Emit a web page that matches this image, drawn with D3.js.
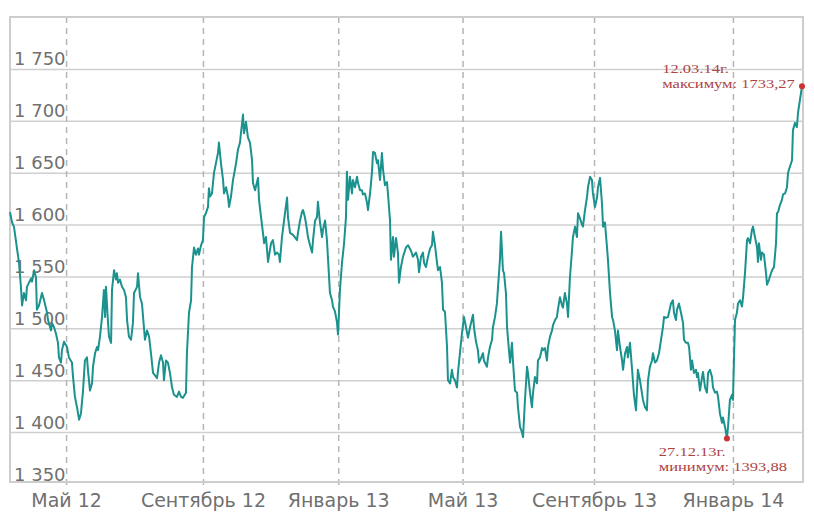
<!DOCTYPE html>
<html>
<head>
<meta charset="utf-8">
<script src="https://cdn.jsdelivr.net/npm/d3@7"></script>
<style>
  body { margin: 0; background: #fff; }
  svg { display: block; }
</style>
</head>
<body>
<div id="chart"></div>
<script>
// MICEX close by trading session (session 0 = start of the chart, about mid-March 2012)
var closes = [
  [0,1612],[1.3,1602],[2.5,1598],[4.4,1577],[5.7,1563],[6.9,1540],[7.6,1522],[8.8,1534],[10.1,1527],[10.7,1540],
  [12.0,1544],[13.3,1548],[13.9,1545],[15.2,1556],[16.4,1549],[17.0,1518],[18.3,1522],[20.2,1534],[21.5,1527],[23.4,1515],
  [24.0,1508],[25.9,1498],[26.5,1505],[27.8,1501],[29.0,1495],[30.3,1486],[30.9,1472],[32.2,1467],[32.8,1479],[34.1,1487],
  [36.0,1482],[37.2,1472],[39.1,1467],[39.8,1453],[41.0,1434],[42.3,1424],[43.6,1412],[44.8,1418],[46.1,1440],[47.3,1469],
  [48.6,1472],[49.2,1460],[50.5,1440],[51.8,1447],[52.4,1463],[53.7,1476],[54.9,1482],[55.6,1479],[56.8,1492],[58.1,1511],
  [59.3,1537],[60.0,1511],[60.6,1540],[61.9,1505],[62.5,1492],[63.8,1486],[64.4,1537],[65.7,1556],[66.9,1547],[67.5,1553],
  [68.2,1544],[69.4,1547],[70.7,1540],[72.0,1537],[73.2,1530],[73.9,1508],[75.1,1492],[76.4,1489],[77.6,1505],[78.3,1534],
  [80.2,1540],[80.8,1553],[82.1,1530],[83.3,1524],[85.2,1489],[86.5,1498],[87.8,1492],[89.0,1476],[90.3,1457],[92.8,1452],
  [94.1,1467],[95.3,1474],[96.6,1467],[97.2,1450],[98.5,1469],[99.7,1467],[101.0,1457],[102.3,1443],[103.5,1436],[105.4,1434],
  [106.7,1439],[108.0,1434],[109.2,1433],[111.1,1438],[111.7,1476],[113.0,1515],[114.3,1527],[114.9,1559],[116.2,1578],[117.4,1571],
  [118.7,1577],[119.3,1571],[120.6,1580],[121.8,1585],[122.5,1607],[123.7,1611],[125.0,1617],[125.6,1635],[126.3,1627],[127.5,1630],
  [128.8,1650],[130.0,1659],[131.3,1669],[131.9,1679],[133.2,1659],[134.5,1643],[135.1,1630],[136.4,1636],[137.6,1627],[138.3,1617],
  [139.5,1627],[140.8,1643],[142.7,1659],[143.9,1672],[145.2,1679],[145.8,1688],[147.1,1706],[147.7,1688],[149.0,1699],[150.2,1684],
  [151.5,1679],[152.8,1662],[153.4,1640],[154.7,1633],[156.6,1645],[157.2,1624],[158.5,1607],[159.7,1592],[160.4,1582],[161.6,1588],
  [162.9,1564],[164.8,1582],[166.0,1585],[167.3,1571],[168.6,1573],[169.8,1571],[170.4,1564],[171.7,1588],[172.3,1595],[173.6,1611],
  [174.9,1626],[175.5,1607],[176.8,1592],[178.7,1590],[181.2,1585],[181.8,1592],[183.1,1604],[184.3,1612],[185.0,1614],[186.2,1607],
  [187.5,1595],[188.1,1588],[189.4,1580],[190.7,1573],[191.3,1585],[192.6,1604],[193.8,1607],[194.4,1622],[195.7,1602],[197.0,1588],
  [197.6,1595],[198.9,1604],[200.1,1585],[200.8,1566],[202.0,1534],[203.3,1527],[203.9,1521],[205.2,1516],[206.4,1506],[207.1,1494],
  [208.3,1537],[209.6,1563],[210.9,1582],[212.1,1607],[212.7,1651],[213.4,1624],[214.6,1646],[215.9,1630],[216.5,1643],[217.8,1636],
  [219.1,1646],[219.7,1640],[221.0,1633],[222.2,1633],[222.8,1629],[224.1,1630],[225.4,1621],[226.0,1614],[227.3,1630],[228.5,1650],
  [229.2,1670],[230.4,1669],[231.7,1659],[232.3,1662],[233.6,1643],[234.8,1669],[235.5,1653],[236.7,1638],[238.0,1641],[238.6,1630],
  [239.9,1604],[240.5,1566],[241.8,1588],[242.4,1569],[243.7,1587],[244.9,1573],[245.6,1544],[246.8,1559],[248.1,1569],[250.0,1578],
  [251.3,1580],[253.1,1575],[254.4,1569],[256.3,1573],[257.6,1566],[258.2,1554],[259.5,1569],[260.7,1573],[261.4,1563],[262.6,1559],
  [263.9,1569],[265.2,1577],[266.4,1580],[267.0,1593],[268.3,1580],[269.6,1563],[270.2,1556],[271.5,1559],[272.7,1544],[273.4,1518],
  [274.6,1516],[275.9,1482],[276.5,1450],[277.8,1447],[279.0,1460],[279.7,1453],[280.9,1450],[282.2,1443],[282.8,1457],[284.1,1477],
  [285.4,1496],[286.6,1511],[287.9,1501],[289.1,1491],[291.0,1505],[292.3,1513],[292.9,1501],[294.2,1487],[295.4,1479],[296.1,1467],
  [297.3,1471],[298.6,1476],[299.2,1469],[301.1,1463],[301.8,1472],[303.0,1482],[304.3,1489],[304.9,1501],[306.2,1511],[307.4,1524],
  [308.1,1540],[309.3,1566],[310.0,1593],[311.2,1556],[311.9,1553],[313.1,1534],[313.8,1501],[315.0,1479],[315.7,1467],[316.9,1486],
  [317.5,1469],[318.8,1440],[320.1,1438],[320.7,1424],[322.0,1405],[323.2,1400],[323.9,1395],[325.1,1431],[326.4,1463],[327.0,1457],
  [328.3,1438],[329.5,1424],[330.2,1438],[331.4,1453],[332.7,1447],[333.3,1469],[334.6,1472],[335.9,1481],[336.5,1479],[337.7,1481],
  [339.0,1469],[339.6,1482],[340.9,1492],[342.2,1498],[342.8,1503],[344.1,1508],[345.3,1511],[345.9,1518],[347.2,1530],[348.5,1522],
  [349.1,1520],[350.3,1534],[351.6,1524],[352.3,1511],[353.5,1549],[354.8,1575],[355.4,1588],[356.7,1598],[357.9,1588],[358.6,1611],
  [359.8,1606],[361.1,1600],[361.7,1598],[363.0,1614],[364.3,1627],[364.9,1636],[366.2,1646],[367.4,1643],[368.0,1630],[369.3,1617],
  [370.6,1626],[371.2,1636],[372.5,1645],[373.7,1621],[374.4,1598],[375.6,1602],[376.9,1578],[377.5,1566],[378.8,1534],[380.1,1511],
  [380.7,1508],[381.9,1498],[383.2,1479],[383.8,1498],[385.1,1482],[386.4,1469],[387.0,1460],[388.3,1476],[389.5,1482],[390.1,1472],
  [391.4,1486],[392.7,1461],[393.9,1436],[395.2,1421],[396.4,1460],[397.7,1450],[399.6,1431],[400.9,1424],[402.1,1421],[402.8,1450],
  [404.0,1463],[405.3,1469],[405.9,1476],[407.2,1467],[408.4,1469],[409.7,1476],[411.0,1489],[412.2,1501],[412.9,1511],[414.1,1510],
  [415.4,1511],[416.0,1515],[417.3,1524],[418.5,1527],[419.2,1515],[420.4,1508],[421.1,1518],[422.3,1524],[423.6,1515],[424.9,1505],
  [425.5,1489],[426.8,1486],[428.0,1486],[428.7,1482],[429.9,1460],[430.6,1469],[431.8,1457],[433.1,1460],[433.7,1453],[434.3,1457],
  [435.6,1440],[436.9,1453],[437.5,1458],[438.8,1443],[440.0,1438],[440.7,1457],[441.9,1460],[443.2,1453],[443.8,1443],[445.1,1438],
  [446.3,1439],[447.0,1434],[448.2,1418],[449.5,1409],[450.1,1414],[451.4,1405],[452.6,1393.88],[453.3,1405],[454.5,1431],[455.8,1436],
  [456.4,1431],[457.7,1508],[458.9,1515],[459.6,1524],[460.9,1527],[462.1,1521],[462.8,1530],[464.0,1553],[465.3,1585],[465.9,1587],
  [467.2,1582],[468.4,1595],[469.1,1598],[470.3,1588],[471.6,1578],[472.2,1564],[472.8,1582],[474.1,1566],[474.7,1573],[476.0,1571],
  [477.3,1553],[477.9,1542],[479.2,1547],[480.4,1553],[481.1,1556],[482.3,1559],[483.6,1582],[484.2,1611],[484.9,1612],[486.1,1619],
  [487.4,1624],[488.0,1629],[489.3,1630],[490.5,1636],[491.2,1650],[492.4,1656],[493.7,1662],[494.3,1691],[495.6,1698],[496.8,1694],
  [497.5,1708],[498.7,1720],[500.0,1733.27]
]

// first session of each month shown on the axis
var monthSessions = [35.4, 121.8, 207.2, 285.7, 368.7, 456.4]
var monthLabels = ["Май 12", "Сентябрь 12", "Январь 13", "Май 13", "Сентябрь 13", "Январь 14"]

var yTicks = [1350, 1400, 1450, 1500, 1550, 1600, 1650, 1700, 1750]

var maxLabel = ["12.03.14г.", "максимум: 1733,27"]
var minLabel = ["27.12.13г.", "минимум: 1393,88"]

var margin = {top: 17, right: 11, bottom: 31, left: 10},
    width = 814 - margin.left - margin.right,
    height = 513 - margin.top - margin.bottom;

var svg = d3.select("#chart")
  .append("svg")
    .attr("width", 814)
    .attr("height", 513)
  .append("g")
    .attr("transform", "translate(" + margin.left + "," + margin.top + ")");

var x = d3.scaleLinear()
  .domain([0, 500])
  .range([0, width - 1]);

var y = d3.scaleLinear()
  .domain([1350, 1800])
  .range([height + 2, 0]);

var fmt = d3.formatLocale({decimal: ",", thousands: " ", grouping: [3], currency: ["", ""]}).format(",d")

// horizontal grid + labels
var yAxis = svg.append("g")
  .call(d3.axisRight(y).tickValues(yTicks).tickSize(width).tickFormat(fmt));
yAxis.select(".domain").remove();
yAxis.selectAll(".tick line")
  .attr("stroke", "#cfcfcf")
  .attr("stroke-width", 1.5)
  .filter(d => d == 1350).remove();
yAxis.selectAll(".tick text")
  .attr("x", 4)
  .attr("dy", -4)
  .attr("text-anchor", "start")
  .attr("fill", "#707070")
  .style("font-family", "DejaVu Sans")
  .style("font-size", "18px");

// month grid (dashed) + labels
var xAxis = svg.append("g")
  .attr("transform", "translate(0," + height + ")")
  .call(d3.axisBottom(x).tickValues(monthSessions).tickSize(6).tickPadding(6)
    .tickFormat((d, i) => monthLabels[i]));
xAxis.select(".domain").remove();
xAxis.selectAll(".tick line")
  .attr("y1", -height)
  .attr("stroke", "#b5b5b5")
  .attr("stroke-width", 1.5)
  .attr("stroke-dasharray", "6,5");
xAxis.selectAll(".tick text")
  .attr("fill", "#707070")
  .style("font-family", "DejaVu Sans")
  .style("font-size", "19px");

// frame
svg.append("rect")
  .attr("x", 0)
  .attr("y", 0)
  .attr("width", width)
  .attr("height", height)
  .attr("fill", "none")
  .attr("stroke", "#cdcdcd")
  .attr("stroke-width", 2);

var line = d3.line()
  .x(d => x(d[0]))
  .y(d => y(d[1]));

svg.append("path")
  .attr("d", line(closes))
  .attr("fill", "none")
  .attr("stroke", "#1b928e")
  .attr("stroke-width", 2)
  .attr("stroke-linejoin", "round");

var hi = closes[d3.maxIndex(closes, d => d[1])]
var lo = closes[d3.minIndex(closes, d => d[1])]

// the captions are drawn a bit wider than the font, as in the original
var stretch = 1.27

function note(p, lines, place) {
  svg.append("circle")
    .attr("cx", x(p[0]))
    .attr("cy", y(p[1]))
    .attr("r", 3)
    .attr("fill", "#cc3333");
  var t = svg.append("text")
    .attr("fill", "#ad4444")
    .style("font-family", "Liberation Serif")
    .style("font-size", "13px");
  var spans = t.selectAll("tspan").data(lines).join("tspan")
    .attr("x", 0)
    .attr("y", (d, i) => i * 15)
    .text(d => d);
  var w = d3.max(spans.nodes(), n => n.getComputedTextLength()) * stretch;
  var left, base;
  if (place == "above") {
    left = x(p[0]) - 7 - w;
    base = y(p[1]) - 13;
  } else {
    left = x(p[0]) - w / 2 - 4;
    base = y(p[1]) + 18;
  }
  t.attr("transform", "translate(" + left + "," + base + ") scale(" + stretch + ",1)");
}

note(hi, maxLabel, "above");
note(lo, minLabel, "below");
</script>
</body>
</html>
